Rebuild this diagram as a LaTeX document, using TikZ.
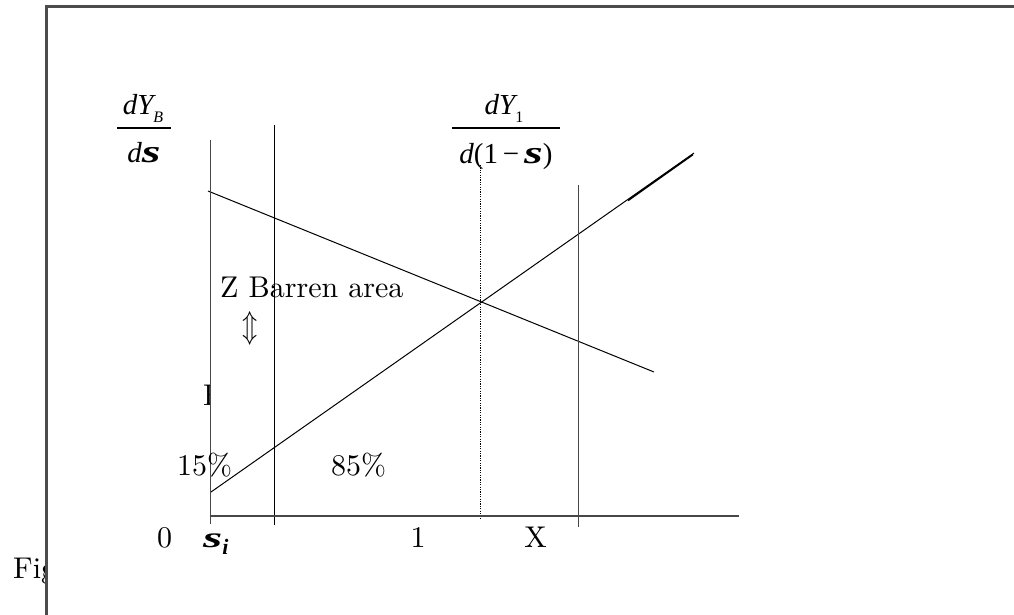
\documentclass[tikz,border=0pt]{standalone}
\usepackage{fontspec}
\newfontfamily\tms{Liberation Serif}
\newfontfamily\lmten{lmroman10-regular}[Extension=.otf]
\newcommand{\wides}[1]{\scalebox{#1}[1]{\textbf{s}}}
\begin{document}
\begin{tikzpicture}[x=1pt,y=-1pt,
  lbl/.style={inner sep=0pt,font=\fontsize{30}{34}\lmten},
  mth/.style={inner sep=0pt,font=\fontsize{29}{32}\selectfont\tms\itshape},
  axisline/.style={draw=black!72,line width=1.5pt},
  thinline/.style={draw=black,line width=1pt},
  framebox/.style={draw=black!70,line width=2.2pt,fill=white}]
\useasboundingbox (0,0) rectangle (1014,614);
\clip (0,0) rectangle (1014,614);
% text behind the frame
\node[lbl,anchor=base west] (fig) at (13,578) {Fig};
\draw[framebox] (46.5,6.5) rectangle (1030,630);
% text partly hidden behind the plot area
\begin{scope}
\clip (0,0) rectangle (210.5,614);
\node[lbl,anchor=base west] (ff) at (203,405) {F};
\end{scope}
% lines
\coordinate (fa) at (208,191);
\coordinate (fb) at (654,372);
\coordinate (ra) at (211,492);
\coordinate (rb) at (694,153);
\draw[thinline] (fa) -- (fb);
\draw[thinline] (ra) -- (rb);
\draw[black,line width=1.6pt] (628,200.5) -- (693,154.5);
% verticals
\coordinate (v1t) at (274,125); \coordinate (v1b) at (274,525);
\draw[thinline] (v1t) -- (v1b);
\coordinate (v2t) at (578.7,185); \coordinate (v2b) at (578.7,527);
\draw[axisline] (v2t) -- (v2b);
\coordinate (dt) at (480.5,165); \coordinate (db) at (480.5,520);
\draw[black,line width=1pt,dash pattern=on 1.2pt off 1.2pt] (dt) -- (db);
% axes
\coordinate (yt) at (210.7,140); \coordinate (yb) at (210.7,524);
\coordinate (xl) at (210.7,516); \coordinate (xr) at (739,516);
\draw[axisline] (yt) -- (yb);
\draw[axisline] (xl) -- (xr);
% fraction 1
\node[mth,anchor=base] (n1) at (143,114) {dY\raisebox{-0.3em}{\fontsize{16}{16}\selectfont B}};
\coordinate (b1l) at (117,128); \coordinate (b1r) at (171,128);
\draw[black,line width=1.2pt] (b1l) -- (b1r);
\node[mth,anchor=base] (d1) at (144,162) {d{\fontsize{32}{34}\selectfont\wides{1.5}}};
% fraction 2
\node[mth,anchor=base] (n2) at (504,114) {dY\raisebox{-0.3em}{\fontsize{16}{16}\selectfont\upshape 1}};
\coordinate (b2l) at (452,128); \coordinate (b2r) at (560,128);
\draw[black,line width=1.2pt] (b2l) -- (b2r);
\node[mth,anchor=base] (d2) at (506,163) {d{\upshape(1\,\textminus\,}{\fontsize{32}{34}\selectfont\wides{1.5}}{\upshape)}};
% labels
\node[lbl,anchor=base west] (zb) at (220,297) {Z Barren area};
\node[inner sep=0pt,font=\fontsize{26}{30}\selectfont] (arr) at (250.5,328) {\scalebox{1}[1.3]{$\Updownarrow$}};
\node[lbl,anchor=base west] (p15) at (177,475) {15\%};
\node[lbl,anchor=base west] (p85) at (331,475) {85\%};
\node[lbl,anchor=base] (zero) at (164.5,547) {0};
\node[mth,anchor=base west] (si) at (203,547) {{\fontsize{29}{32}\selectfont\wides{1.7}}\raisebox{-0.25em}{\fontsize{22}{22}\selectfont\bfseries i}};
\node[lbl,anchor=base] (one) at (418,547) {1};
\node[lbl,anchor=base] (xx) at (535.5,547) {X};
\end{tikzpicture}
\end{document}
